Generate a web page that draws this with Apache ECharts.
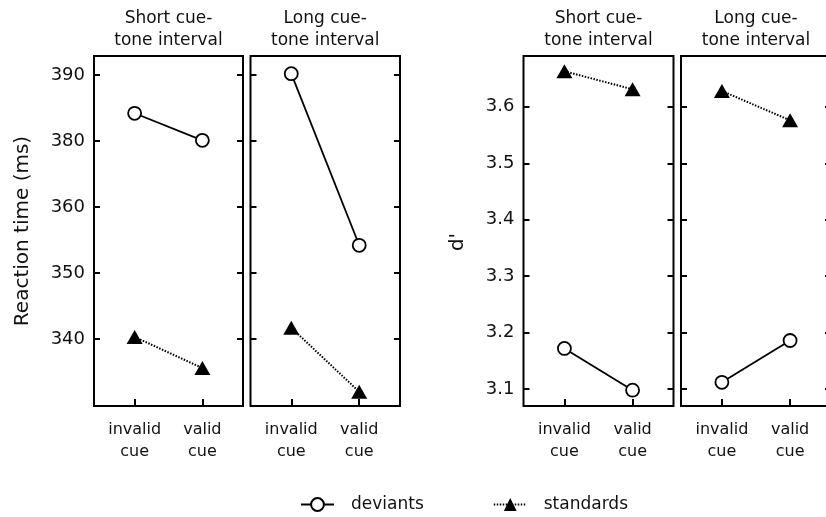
<!DOCTYPE html>
<html>
<head>
<meta charset="utf-8">
<script src="https://cdn.jsdelivr.net/npm/echarts@6/dist/echarts.min.js"></script>
<style>html,body{margin:0;padding:0;background:#fff}#c{width:826px;height:517px}</style>
</head>
<body>
<div id="c"></div>
<script>
// ---- data ----
var cueCategories = ['invalid\ncue', 'valid\ncue'];
var panelTitles = ['Short cue-\ntone interval', 'Long cue-\ntone interval', 'Short cue-\ntone interval', 'Long cue-\ntone interval'];
// Reaction time axis: evenly spaced ticks, labelled as in the original figure
var rtTickValues = [340, 350, 360, 370, 380];
var rtTickLabels = ['340', '350', '360', '380', '390'];
var dTickValues = [3.1, 3.2, 3.3, 3.4, 3.5, 3.6];
var dTickLabels = ['3.1', '3.2', '3.3', '3.4', '3.5', '3.6'];
// reaction time (in axis units of the tick positions above)
var rtDeviantsShort = [374.2, 370.1];
var rtStandardsShort = [340.3, 335.6];
var rtDeviantsLong = [380.2, 354.2];
var rtStandardsLong = [341.7, 332.0];
// d'
var dDeviantsShort = [3.172, 3.098];
var dStandardsShort = [3.663, 3.631];
var dDeviantsLong = [3.112, 3.186];
var dStandardsLong = [3.628, 3.576];

var FONT = 'DejaVu Sans, Verdana, sans-serif';
var TXT = '#111';
var grids = [
  {left: 94, top: 56, width: 149, height: 350},
  {left: 250.5, top: 56, width: 149.5, height: 350},
  {left: 523.5, top: 56, width: 150, height: 350},
  {left: 681, top: 56, width: 150, height: 350}
];
grids.forEach(function (g) {
  g.show = true; g.borderColor = '#000'; g.borderWidth = 2;
  g.backgroundColor = 'transparent'; g.containLabel = false; g.outerBoundsMode = 'none';
});

var xAxes = grids.map(function (g, i) {
  return {
    type: 'value', gridIndex: i, min: 0.4, max: 2.6,
    axisLine: {show: false}, splitLine: {show: false},
    axisTick: {show: true, inside: true, length: 7, customValues: [1, 2], lineStyle: {color: '#000', width: 2}},
    axisLabel: {show: true, customValues: [1, 2], margin: 13, color: TXT, fontFamily: FONT, fontSize: 16, lineHeight: 22,
      formatter: function (v) { return cueCategories[Math.round(v) - 1]; }}
  };
});

function yPair(i, isRT, showLabels, name, nameGap, namePad) {
  var tv = isRT ? rtTickValues : dTickValues;
  var tl = isRT ? rtTickLabels : dTickLabels;
  var min = isRT ? 329.85 : 3.07;
  var max = isRT ? 382.88 : 3.69;
  var tick = {show: true, inside: true, length: 6, customValues: tv, lineStyle: {color: '#000', width: 2}};
  var left = {
    type: 'value', gridIndex: i, min: min, max: max, position: 'left',
    axisLine: {show: false}, splitLine: {show: false}, axisTick: tick,
    axisLabel: {show: showLabels, customValues: tv, margin: 9, color: TXT, fontFamily: FONT, fontSize: 18,
      formatter: function (v) {
        for (var k = 0; k < tv.length; k++) { if (Math.abs(tv[k] - v) < 1e-6) return tl[k]; }
        return '';
      }}
  };
  if (name) {
    left.name = name; left.nameLocation = 'middle'; left.nameGap = nameGap;
    left.nameTextStyle = {color: TXT, fontFamily: FONT, fontSize: 20, padding: namePad || 0};
  }
  var right = {
    type: 'value', gridIndex: i, min: min, max: max, position: 'right',
    axisLine: {show: false}, splitLine: {show: false}, axisTick: tick, axisLabel: {show: false}
  };
  return [left, right];
}
var yAxes = [].concat(
  yPair(0, true, true, 'Reaction time (ms)', 61),
  yPair(1, true, false),
  yPair(2, false, true, "d'", 56, [0, 22, 0, 0]),
  yPair(3, false, false)
);

function pts(arr) { return arr.map(function (v, k) { return [k + 1, v]; }); }
function devSeries(i, arr) {
  return {name: 'deviants', type: 'line', xAxisIndex: i, yAxisIndex: i * 2, data: pts(arr),
    symbol: 'circle', symbolSize: 13, showSymbol: true, silent: true, z: 3,
    lineStyle: {color: '#000', width: 1.8, type: 'solid'},
    itemStyle: {color: '#fff', borderColor: '#000', borderWidth: 1.8}};
}
function stdSeries(i, arr) {
  return {name: 'standards', type: 'line', xAxisIndex: i, yAxisIndex: i * 2, data: pts(arr),
    symbol: 'triangle', symbolSize: [16, 14], showSymbol: true, silent: true, z: 3,
    lineStyle: {color: '#000', width: 2, type: [1.5, 1.5]},
    itemStyle: {color: '#000', borderColor: '#000', borderWidth: 0}};
}
var series = [
  devSeries(0, rtDeviantsShort), stdSeries(0, rtStandardsShort),
  devSeries(1, rtDeviantsLong), stdSeries(1, rtStandardsLong),
  devSeries(2, dDeviantsShort), stdSeries(2, dStandardsShort),
  devSeries(3, dDeviantsLong), stdSeries(3, dStandardsLong)
];

var titleGraphics = grids.map(function (g, i) {
  return {type: 'text', x: g.left + g.width / 2, y: 8, silent: true,
    style: {text: panelTitles[i], fill: TXT, font: '17px ' + FONT, textAlign: 'center', textVerticalAlign: 'top', lineHeight: 22}};
});

var chart = echarts.init(document.getElementById('c'), null, {renderer: 'canvas'});
chart.setOption({
  animation: false,
  backgroundColor: '#fff',
  textStyle: {fontFamily: FONT},
  grid: grids,
  xAxis: xAxes,
  yAxis: yAxes,
  series: series,
  legend: {
    data: ['deviants', 'standards'], left: 295, top: 491, itemWidth: 33, itemHeight: 16, itemGap: 69,
    selectedMode: false,
    textStyle: {color: TXT, fontFamily: FONT, fontSize: 17, padding: [0, 0, 0, 12]}
  },
  graphic: titleGraphics
});
</script>
</body>
</html>
